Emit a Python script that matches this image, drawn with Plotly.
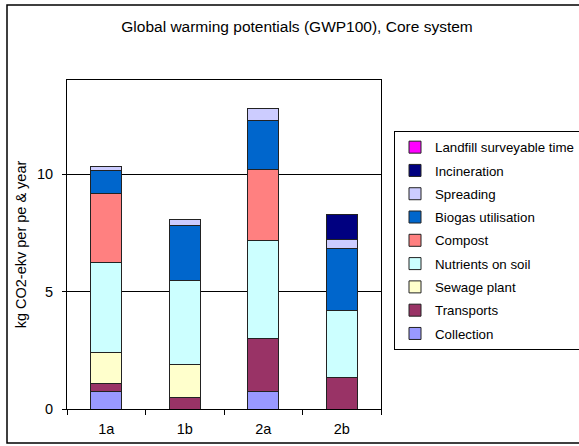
import plotly.graph_objects as go

categories = ["1a", "1b", "2a", "2b"]

collection = [0.73, 0.0, 0.73, 0.0]
transports = [0.34, 0.47, 2.26, 1.32]
sewage_plant = [1.32, 1.41, 0.0, 0.0]
nutrients_on_soil = [3.83, 3.57, 4.20, 2.87]
compost = [2.95, 0.0, 3.02, 0.0]
biogas_utilisation = [0.97, 2.37, 2.05, 2.62]
spreading = [0.20, 0.23, 0.52, 0.41]
incineration = [0.0, 0.0, 0.0, 1.04]
landfill = [0.0, 0.0, 0.0, 0.0]

series_names = ["Collection", "Transports", "Sewage plant", "Nutrients on soil",
                "Compost", "Biogas utilisation", "Spreading", "Incineration",
                "Landfill surveyable time"]
series_values = [collection, transports, sewage_plant, nutrients_on_soil,
                 compost, biogas_utilisation, spreading, incineration, landfill]
series_colors = ["#9999FF", "#993366", "#FFFFCC", "#CCFFFF", "#FF8080",
                 "#0066CC", "#CCCCFF", "#000080", "#FF00FF"]

y_ticks = [0, 5, 10]

FONT = "Liberation Sans, Arial, sans-serif"

fig = go.Figure()
n = len(series_names)
for i, (name, vals, col) in enumerate(zip(series_names, series_values, series_colors)):
    fig.add_trace(go.Bar(
        x=categories, y=vals, name=name, legendgroup=name,
        legendrank=n - i,
        marker=dict(color=col, line=dict(color="#222222", width=1)),
    ))

W, H = 579, 446
L, R, T, B = 67, 381, 80, 409
pw, ph = R - L, B - T

def px_x(x):
    return (x - L) / pw

def px_y(y):
    return (B - y) / ph

fig.update_layout(
    width=W, height=H,
    barmode="stack", bargap=0.6,
    margin=dict(l=L, r=W - R, t=T, b=H - B, pad=0, autoexpand=False),
    paper_bgcolor="white", plot_bgcolor="white",
    font=dict(family=FONT, size=14, color="black"),
    title=dict(text="Global warming potentials (GWP100), Core system",
               x=px_x(297), xref="paper", xanchor="center",
               y=1 - 27 / H, yref="container", yanchor="middle",
               font=dict(size=15.5, family=FONT, color="black")),
    xaxis=dict(showline=True, linecolor="black", linewidth=1, mirror=True,
               ticks="outside", tickson="boundaries", ticklen=5,
               tickcolor="black", ticklabelstandoff=7,
               tickfont=dict(size=14.5)),
    yaxis=dict(range=[0, 14], tickvals=y_ticks, showline=True,
               linecolor="black", linewidth=1, mirror=True,
               ticks="outside", ticklen=4, tickcolor="black",
               showgrid=True, gridcolor="black", gridwidth=1,
               zeroline=False, tickfont=dict(size=14.5),
               ticklabelstandoff=6,
               title=dict(text="kg CO2-ekv per pe & year", standoff=6,
                          font=dict(size=14.5))),
    legend=dict(x=px_x(394), y=px_y(131), xanchor="left", yanchor="top",
                bgcolor="white", bordercolor="black", borderwidth=1,
                traceorder="grouped", tracegroupgap=3,
                itemwidth=30, font=dict(size=13.3)),
    shapes=[dict(type="rect", xref="paper", yref="paper",
                 x0=px_x(7), x1=px_x(600), y0=px_y(443), y1=px_y(5),
                 line=dict(color="black", width=1.5), layer="below")],
)

fig.write_html("out.html", config={"displayModeBar": False},
               post_script="document.body.style.margin='0';")
